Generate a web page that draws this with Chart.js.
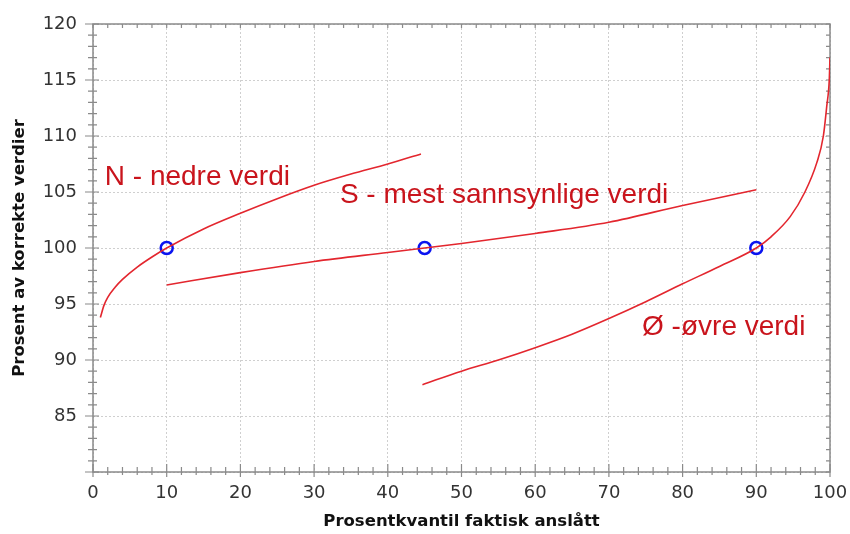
<!DOCTYPE html>
<html lang="no">

<head>
    <meta charset="UTF-8" />
    <title>Prosentkvantil</title>
    <script src="https://cdn.jsdelivr.net/npm/chart.js"></script>
    <style>
        html,
        body {
            margin: 0;
            padding: 0;
            background: #fff;
        }

        #wrap {
            width: 850px;
            height: 534px;
        }
    </style>
</head>

<body>
    <div id="wrap"><canvas id="quantChart"></canvas></div>

    <script>
        // N - nedre verdi
        const nedreX = [1, 1.5, 2, 3, 4, 6, 8, 10, 15, 20, 25, 30, 35, 40, 44.5];
        const nedreY = [93.8, 94.9, 95.6, 96.5, 97.2, 98.3, 99.2, 100, 101.7, 103.1, 104.4, 105.6, 106.6, 107.5, 108.4];

        // S - mest sannsynlige verdi
        const mestX = [10, 20, 30, 40, 45, 50, 60, 70, 80, 90];
        const mestY = [96.7, 97.8, 98.8, 99.6, 100, 100.4, 101.3, 102.3, 103.8, 105.2];

        // Ø - øvre verdi
        const ovreX = [44.7, 50, 55, 60, 65, 70, 75, 80, 85, 90, 92, 94.6, 96.6, 98.2, 99.1, 99.55, 99.9, 100];
        const ovreY = [87.8, 89.0, 90.0, 91.1, 92.3, 93.7, 95.2, 96.8, 98.35, 100, 101.0, 102.8, 105, 107.6, 110, 112.6, 115, 117];

        // blue markers at 100 %
        const markX = [10, 45, 90];
        const markY = [100, 100, 100];

        const labelTexts = ['N - nedre verdi', 'S - mest sannsynlige verdi', 'Ø -øvre verdi'];
        const labelX = [1.6, 33.5, 74.5];
        const labelY = [106.3, 104.7, 92.9];

        const toPts = (xs, ys) => xs.map((x, i) => ({ x: x, y: ys[i] }));

        const lineRed = '#e3262e';
        const textRed = '#c9141c';
        const axisGrey = '#8a8a8a';

        // frame with crossing ticks + minor ticks
        const framePlugin = {
            id: 'frame',
            beforeDatasetsDraw(chart) {
                const { ctx, chartArea: a, scales: { x, y } } = chart;
                ctx.save();
                ctx.strokeStyle = axisGrey;
                ctx.lineWidth = 1.5;
                ctx.strokeRect(a.left, a.top, a.right - a.left, a.bottom - a.top);
                ctx.lineWidth = 1.2;
                ctx.beginPath();
                for (let v = 0; v <= 100; v += 2) {
                    const px = x.getPixelForValue(v);
                    const major = v % 10 === 0;
                    ctx.moveTo(px, a.bottom + (major ? 5 : 3));
                    ctx.lineTo(px, a.bottom - (major ? 8 : 5));
                    ctx.moveTo(px, a.top);
                    ctx.lineTo(px, a.top + 4);
                }
                for (let v = 80; v <= 120; v += 1) {
                    const py = y.getPixelForValue(v);
                    const major = v % 5 === 0;
                    ctx.moveTo(a.left - (major ? 8 : 5), py);
                    ctx.lineTo(a.left + (major ? 6 : 4), py);
                    ctx.moveTo(a.right, py);
                    ctx.lineTo(a.right - 4, py);
                }
                ctx.stroke();
                ctx.restore();
            }
        };

        const labelPlugin = {
            id: 'curveLabels',
            afterDraw(chart) {
                const { ctx, scales: { x, y } } = chart;
                ctx.save();
                ctx.font = '28px "Liberation Sans", Arial, sans-serif';
                ctx.fillStyle = textRed;
                ctx.textBaseline = 'middle';
                ctx.textAlign = 'left';
                labelTexts.forEach((t, i) => {
                    ctx.fillText(t, x.getPixelForValue(labelX[i]), y.getPixelForValue(labelY[i]));
                });
                ctx.restore();
            }
        };

        const curve = (pts) => ({
            type: 'line',
            data: pts,
            borderColor: lineRed,
            borderWidth: 1.6,
            pointRadius: 0,
            fill: false,
            cubicInterpolationMode: 'monotone'
        });

        new Chart(document.getElementById('quantChart'), {
            type: 'scatter',
            data: {
                datasets: [
                    curve(toPts(nedreX, nedreY)),
                    curve(toPts(mestX, mestY)),
                    curve(toPts(ovreX, ovreY)),
                    {
                        type: 'scatter',
                        data: toPts(markX, markY),
                        pointRadius: 6,
                        pointBorderWidth: 2.5,
                        pointBorderColor: '#0a14f0',
                        pointBackgroundColor: 'rgba(255,255,255,0)'
                    }
                ]
            },
            options: {
                responsive: true,
                maintainAspectRatio: false,
                animation: false,
                layout: {
                    padding: { left: 0, right: 20, top: 24, bottom: 0 }
                },
                plugins: {
                    legend: { display: false },
                    tooltip: { enabled: false }
                },
                scales: {
                    x: {
                        type: 'linear',
                        min: 0,
                        max: 100,
                        afterFit: (s) => {
                            s.height = 62;
                            s.paddingRight = 0;
                            s.paddingLeft = 0;
                        },
                        ticks: {
                            stepSize: 10,
                            color: '#333',
                            padding: 11,
                            font: { family: 'DejaVu Sans', size: 18 }
                        },
                        grid: {
                            color: '#cfcfcf',
                            lineWidth: 1,
                            drawTicks: false
                        },
                        border: { display: false, dash: [2, 2] },
                        title: {
                            display: true,
                            text: 'Prosentkvantil faktisk anslått',
                            color: '#111',
                            padding: { top: 0, bottom: 2 },
                            font: { family: 'DejaVu Sans', size: 16.5, weight: 'bold' }
                        }
                    },
                    y: {
                        type: 'linear',
                        min: 80,
                        max: 120,
                        afterFit: (s) => {
                            s.width = 93;
                            s.paddingTop = 0;
                            s.paddingBottom = 0;
                        },
                        ticks: {
                            stepSize: 5,
                            color: '#333',
                            padding: 16,
                            font: { family: 'DejaVu Sans', size: 18 },
                            callback: (v) => (v === 80 ? '' : v)
                        },
                        grid: {
                            color: '#cfcfcf',
                            lineWidth: 1,
                            drawTicks: false
                        },
                        border: { display: false, dash: [2, 2] },
                        title: {
                            display: true,
                            text: 'Prosent av korrekte verdier',
                            color: '#111',
                            padding: { top: 10, bottom: 0 },
                            font: { family: 'DejaVu Sans', size: 16.5, weight: 'bold' }
                        }
                    }
                }
            },
            plugins: [framePlugin, labelPlugin]
        });
    </script>
</body>

</html>
